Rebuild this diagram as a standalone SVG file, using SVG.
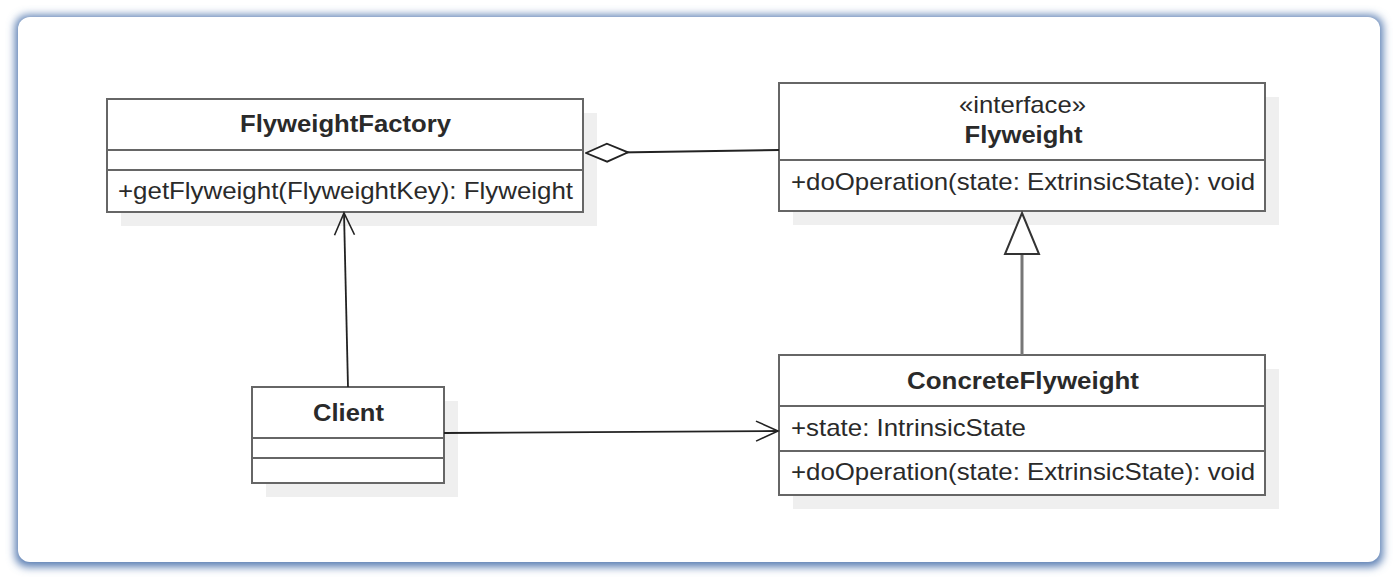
<svg xmlns="http://www.w3.org/2000/svg" width="1398" height="580" viewBox="0 0 1398 580">
<defs>
<filter id="frameShadow" x="-5%" y="-10%" width="110%" height="120%">
<feGaussianBlur stdDeviation="4.5"/>
</filter>
<marker id="openArrow" markerWidth="26" markerHeight="24" refX="23" refY="12" orient="auto" markerUnits="userSpaceOnUse">
<path d="M1,2 L23,12 L1,22" fill="none" stroke="#222" stroke-width="1.6"/>
</marker>
<marker id="diamond" markerWidth="46" markerHeight="22" refX="1" refY="11" orient="auto" markerUnits="userSpaceOnUse">
<path d="M1,11 L22,2 L43,11 L22,20 Z" fill="#fff" stroke="#222" stroke-width="1.8"/>
</marker>
</defs>
<style>
.box{fill:#fff;stroke:#666;stroke-width:2}
.shadow{fill:#efefef}
.div{stroke:#666;stroke-width:2}
.t{font-family:"Liberation Sans",Arial,sans-serif;font-size:24px;fill:#2a2a2a}
.b{font-weight:bold}
.c{text-anchor:middle}
.line{fill:none;stroke:#222;stroke-width:1.8}
</style>
<rect x="0" y="0" width="1398" height="580" fill="#fff"/>
<g filter="url(#frameShadow)">
<rect x="15" y="15" width="1368" height="552" rx="13" fill="#5b7fb3"/>
</g>
<rect x="18" y="17" width="1362" height="545" rx="12" fill="#fff"/>

<g id="FlyweightFactory">
<rect class="shadow" x="121" y="113" width="476" height="113"/>
<rect class="box" x="107" y="99" width="476" height="113"/>
<line class="div" x1="107" y1="150" x2="583" y2="150"/>
<line class="div" x1="107" y1="170" x2="583" y2="170"/>
<text class="t b c" x="345.5" y="132" textLength="211" lengthAdjust="spacingAndGlyphs">FlyweightFactory</text>
<text class="t" x="118" y="199" textLength="455" lengthAdjust="spacingAndGlyphs">+getFlyweight(FlyweightKey): Flyweight</text>
</g>

<g id="Flyweight">
<rect class="shadow" x="793" y="97" width="486" height="128"/>
<rect class="box" x="779" y="83" width="486" height="128"/>
<line class="div" x1="779" y1="160" x2="1265" y2="160"/>
<text class="t c" x="1022.5" y="113" textLength="127" lengthAdjust="spacingAndGlyphs">«interface»</text>
<text class="t b c" x="1023.5" y="143" textLength="118" lengthAdjust="spacingAndGlyphs">Flyweight</text>
<text class="t" x="791" y="190" textLength="464" lengthAdjust="spacingAndGlyphs">+doOperation(state: ExtrinsicState): void</text>
</g>

<g id="Client">
<rect class="shadow" x="266" y="401" width="192" height="96"/>
<rect class="box" x="252" y="387" width="192" height="96"/>
<line class="div" x1="252" y1="438" x2="444" y2="438"/>
<line class="div" x1="252" y1="458" x2="444" y2="458"/>
<text class="t b c" x="348.5" y="421" textLength="71" lengthAdjust="spacingAndGlyphs">Client</text>
</g>

<g id="ConcreteFlyweight">
<rect class="shadow" x="793" y="369" width="486" height="140"/>
<rect class="box" x="779" y="355" width="486" height="140"/>
<line class="div" x1="779" y1="406" x2="1265" y2="406"/>
<line class="div" x1="779" y1="451" x2="1265" y2="451"/>
<text class="t b c" x="1023" y="389" textLength="232" lengthAdjust="spacingAndGlyphs">ConcreteFlyweight</text>
<text class="t" x="791" y="436" textLength="235" lengthAdjust="spacingAndGlyphs">+state: IntrinsicState</text>
<text class="t" x="791" y="480" textLength="464" lengthAdjust="spacingAndGlyphs">+doOperation(state: ExtrinsicState): void</text>
</g>

<g id="connectors">
<path class="line" d="M586,153 L779,150" marker-start="url(#diamond)"/>
<path class="line" d="M348,387 L344,213" marker-end="url(#openArrow)"/>
<path class="line" d="M444,433 L778,431" marker-end="url(#openArrow)"/>
<line x1="1022" y1="253" x2="1022" y2="355" stroke="#777" stroke-width="3"/>
<path d="M1022,213 L1039,254 L1005,254 Z" fill="#fff" stroke="#333" stroke-width="2"/>
</g>
</svg>
